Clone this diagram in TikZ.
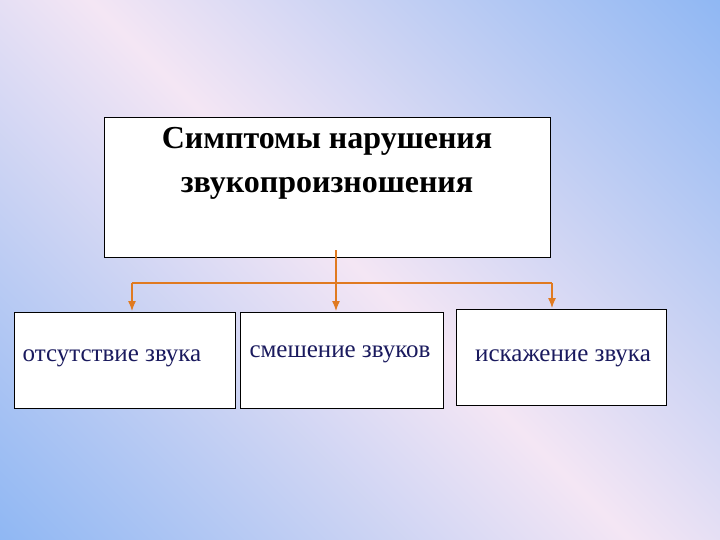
\documentclass[tikz,border=0pt]{standalone}
\usepackage{fontspec}
\setmainfont{Liberation Serif}
\usetikzlibrary{arrows.meta}
\definecolor{bgblue}{HTML}{6AA6F2}
\definecolor{bgpink}{HTML}{F4E6F4}
\definecolor{txtblue}{HTML}{1A1A5E}
\definecolor{conncol}{HTML}{E07A20}
\begin{document}
\begin{tikzpicture}[x=1pt,y=-1pt,
  box/.style={draw=black,thick,fill=white,inner sep=0pt},
  conn/.style={draw=conncol,line width=1.2pt},
  arr/.style={conn,-{Latex[length=10pt,width=8pt]}}]
\useasboundingbox (0,0) rectangle (720,540);
\begin{scope}
\clip (0,0) rectangle (720,540);
\shade[left color=bgblue,right color=bgblue,middle color=bgpink,shading angle=-45] (-300,-300) rectangle (1020,840);
\end{scope}
\node[box,minimum width=446,minimum height=140,anchor=north west] (top) at (104,117) {};
\node[font=\bfseries\fontsize{32}{44}\selectfont,align=center] (tt) at (327,163) {Симптомы нарушения\\звукопроизношения};
\node[box,minimum width=221,minimum height=96,anchor=north west] (b1) at (14,312) {};
\node[box,minimum width=203,minimum height=96,anchor=north west] (b2) at (240,312) {};
\node[box,minimum width=210,minimum height=96,anchor=north west] (b3) at (456,309) {};
\node[font=\fontsize{25}{28}\selectfont,text=txtblue] (t1) at (112,358) {отсутствие звука};
\node[font=\fontsize{25}{28}\selectfont,text=txtblue] (t2) at (340,354) {смешение звуков};
\node[font=\fontsize{25}{28}\selectfont,text=txtblue] (t3) at (563,358) {искажение звука};
\coordinate (s) at (336,250);
\coordinate (h) at (336,283);
\draw[conn] (s) -- (h);
\draw[conn] (132,283) -- (552,283);
\draw[arr] (132,283) -- (132,311);
\draw[arr] (h) -- (336,311);
\draw[arr] (552,283) -- (552,308);
\end{tikzpicture}
\end{document}
